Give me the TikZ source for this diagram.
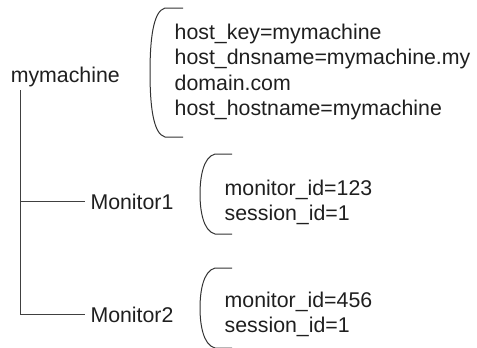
\documentclass[tikz,border=0pt]{standalone}
\usepackage{fontspec}
\setmainfont{Liberation Sans}
\begin{document}
\begin{tikzpicture}[x=1bp,y=-1bp,
  txt/.style={inner sep=0pt,text=black!88,font=\fontsize{21.4}{25.7}\selectfont},
  blk/.style={txt,align=left,anchor=north west},
  mon/.style={txt,inner xsep=5.3bp,inner ysep=0pt,anchor=base west},
  conn/.style={draw=black!75,line width=1bp},
  brk/.style={draw=black!80,line width=1bp}]
\useasboundingbox (0,0) rectangle (477,347);
\clip (0,0) rectangle (477,347);
% tree
\node[txt,anchor=base west] (root) at (10.6,82) {mymachine};
\node[mon] (m1) at (85,209) {Monitor1};
\node[mon] (m2) at (85,322) {Monitor2};
\coordinate (trunk) at ([xshift=9.4bp,yshift=-3.5bp]root.south west);
\draw[conn] (trunk) |- (m2.west);
\draw[conn] (trunk |- m1.west) -- (m1.west);
% attribute blocks
\node[blk] (b1) at (174.5,23.5) {host\_key=mymachine\\host\_dnsname=mymachine.my\\domain.com\\host\_hostname=mymachine};
\node[blk] (b2) at (224.5,179.5) {monitor\_id=123\\session\_id=1};
\node[blk] (b3) at (224.5,291.5) {monitor\_id=456\\session\_id=1};
% brackets
\draw[brk] (183,8) -- (165,8) .. controls (153,11) and (150,40) .. (150,72.5)
  .. controls (150,105) and (153,134) .. (165,137) -- (183,137);
\draw[brk] (232,154) -- (215,154) .. controls (203,157) and (200,178) .. (200,194)
  .. controls (200,210) and (203,231) .. (215,234) -- (232,234);
\draw[brk] (232,268) -- (215,268) .. controls (203,271) and (200,292) .. (200,308)
  .. controls (200,324) and (203,345) .. (215,348) -- (232,348);
\end{tikzpicture}
\end{document}
